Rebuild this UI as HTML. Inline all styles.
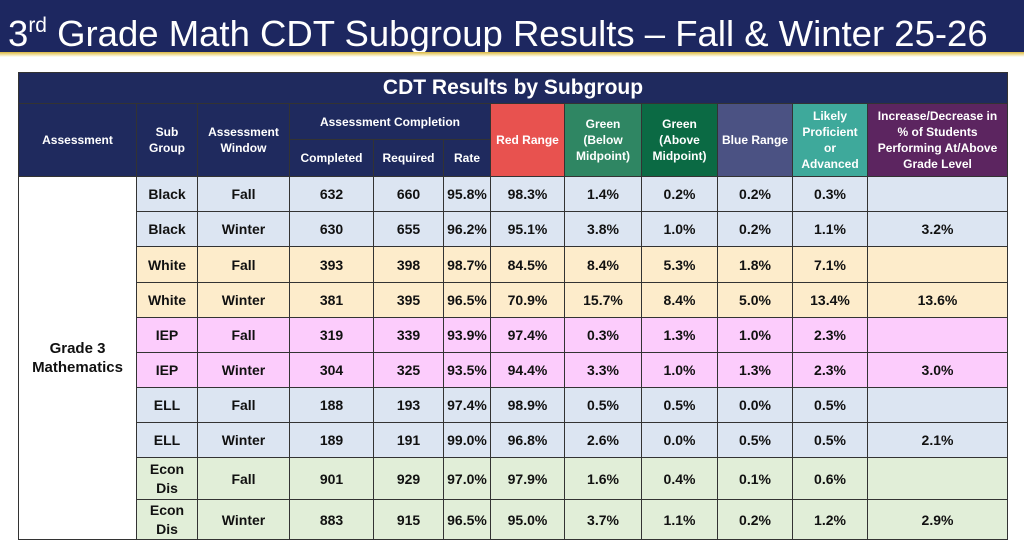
<!DOCTYPE html>
<html><head><meta charset="utf-8"><style>
*{margin:0;padding:0;box-sizing:border-box}
body{width:1024px;height:540px;background:#fff;position:relative;overflow:hidden;font-family:"Liberation Sans",sans-serif}
#bar{position:absolute;left:0;top:0;width:1024px;height:52px;background:#1d2760;color:#fff;font-size:36.5px;line-height:52px;padding-left:8px;white-space:nowrap}
#bar sup{font-size:21px;vertical-align:14px}
#gold{position:absolute;left:0;top:52px;width:1024px;height:5px;background:linear-gradient(#d9b740,#f3e6b0 60%,#fff)}
table{position:absolute;left:18px;top:72px;width:989px;border-collapse:collapse;table-layout:fixed}
td,th{border:1px solid #333;text-align:center;vertical-align:middle;font-weight:bold;overflow:hidden}
th{color:#fff;font-size:12px;line-height:16px;background:#1f2a5e}
td{font-size:14px;color:#111}
.t{font-size:21px;height:31px}
.b td{background:#dce5f2}.w td{background:#fdeccb}.p td{background:#fcccfc}.g td{background:#e1eed8}
td.a{background:#fff!important;font-size:15px;line-height:19px}
</style></head><body>
<div id="bar">3<sup>rd</sup> Grade Math CDT Subgroup Results – Fall &amp; Winter 25-26</div>
<div id="gold"></div>
<table>
<colgroup><col style="width:118px"><col style="width:61px"><col style="width:92px"><col style="width:84px"><col style="width:70px"><col style="width:47px"><col style="width:74px"><col style="width:77px"><col style="width:76px"><col style="width:75px"><col style="width:75px"><col style="width:140px"></colgroup>
<tr><th colspan="12" class="t">CDT Results by Subgroup</th></tr>
<tr style="height:36px"><th rowspan="2">Assessment</th><th rowspan="2">Sub<br>Group</th><th rowspan="2">Assessment<br>Window</th><th colspan="3">Assessment Completion</th>
<th rowspan="2" style="background:#e8524f">Red Range</th><th rowspan="2" style="background:#2f8663">Green<br>(Below<br>Midpoint)</th><th rowspan="2" style="background:#0b6a44">Green<br>(Above<br>Midpoint)</th><th rowspan="2" style="background:#4b5283">Blue Range</th><th rowspan="2" style="background:#3ea99b">Likely<br>Proficient<br>or<br>Advanced</th><th rowspan="2" style="background:#5c2560">Increase/Decrease in<br>% of Students<br>Performing At/Above<br>Grade Level</th></tr>
<tr style="height:37px"><th>Completed</th><th>Required</th><th>Rate</th></tr>
<tr class="b" style="height:35px"><td rowspan="10" class="a">Grade 3<br>Mathematics</td><td>Black</td><td>Fall</td><td>632</td><td>660</td><td>95.8%</td><td>98.3%</td><td>1.4%</td><td>0.2%</td><td>0.2%</td><td>0.3%</td><td></td></tr>
<tr class="b" style="height:35px"><td>Black</td><td>Winter</td><td>630</td><td>655</td><td>96.2%</td><td>95.1%</td><td>3.8%</td><td>1.0%</td><td>0.2%</td><td>1.1%</td><td>3.2%</td></tr>
<tr class="w" style="height:36px"><td>White</td><td>Fall</td><td>393</td><td>398</td><td>98.7%</td><td>84.5%</td><td>8.4%</td><td>5.3%</td><td>1.8%</td><td>7.1%</td><td></td></tr>
<tr class="w" style="height:35px"><td>White</td><td>Winter</td><td>381</td><td>395</td><td>96.5%</td><td>70.9%</td><td>15.7%</td><td>8.4%</td><td>5.0%</td><td>13.4%</td><td>13.6%</td></tr>
<tr class="p" style="height:35px"><td>IEP</td><td>Fall</td><td>319</td><td>339</td><td>93.9%</td><td>97.4%</td><td>0.3%</td><td>1.3%</td><td>1.0%</td><td>2.3%</td><td></td></tr>
<tr class="p" style="height:35px"><td>IEP</td><td>Winter</td><td>304</td><td>325</td><td>93.5%</td><td>94.4%</td><td>3.3%</td><td>1.0%</td><td>1.3%</td><td>2.3%</td><td>3.0%</td></tr>
<tr class="b" style="height:35px"><td>ELL</td><td>Fall</td><td>188</td><td>193</td><td>97.4%</td><td>98.9%</td><td>0.5%</td><td>0.5%</td><td>0.0%</td><td>0.5%</td><td></td></tr>
<tr class="b" style="height:35px"><td>ELL</td><td>Winter</td><td>189</td><td>191</td><td>99.0%</td><td>96.8%</td><td>2.6%</td><td>0.0%</td><td>0.5%</td><td>0.5%</td><td>2.1%</td></tr>
<tr class="g" style="height:42px"><td style="line-height:19px">Econ<br>Dis</td><td>Fall</td><td>901</td><td>929</td><td>97.0%</td><td>97.9%</td><td>1.6%</td><td>0.4%</td><td>0.1%</td><td>0.6%</td><td></td></tr>
<tr class="g" style="height:40px"><td style="line-height:19px">Econ<br>Dis</td><td>Winter</td><td>883</td><td>915</td><td>96.5%</td><td>95.0%</td><td>3.7%</td><td>1.1%</td><td>0.2%</td><td>1.2%</td><td>2.9%</td></tr>
</table>
</body></html>
